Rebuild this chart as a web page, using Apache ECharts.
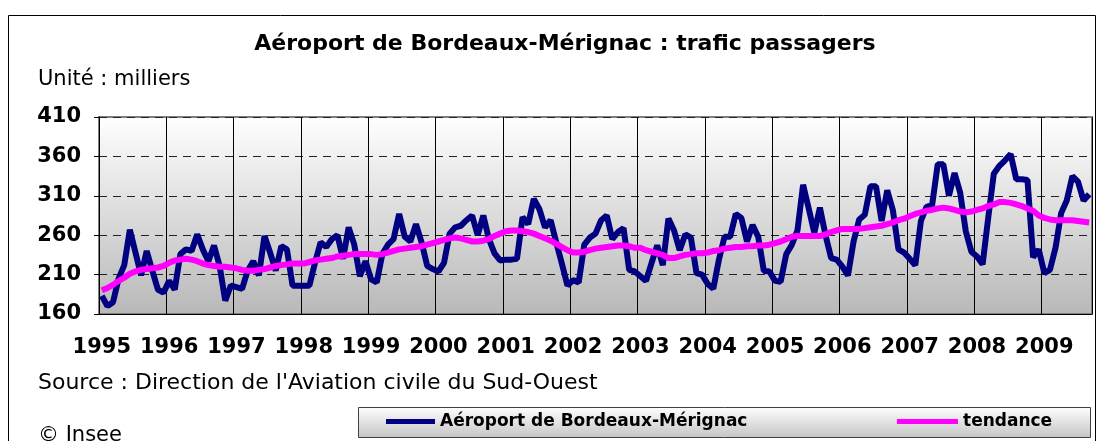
<!DOCTYPE html>
<html>
<head>
<meta charset="utf-8">
<script src="https://cdn.jsdelivr.net/npm/echarts@6/dist/echarts.min.js"></script>
<style>
html, body { margin: 0; padding: 0; background: #fff; }
#chart { width: 1100px; height: 441px; }
</style>
</head>
<body>
<div id="chart"></div>
<script>
// données mensuelles, janvier 1995 -> septembre 2009 (milliers de passagers)
const annees = [1995, 1996, 1997, 1998, 1999, 2000, 2001, 2002, 2003, 2004, 2005, 2006, 2007, 2008, 2009];

const trafic = [
    183, 170, 175, 205, 222, 267, 238, 209, 240, 215, 191, 187,
    202, 191, 236, 242, 240, 261, 242, 227, 247, 221, 177, 196,
    194, 192, 215, 227, 209, 259, 238, 215, 246, 242, 196, 196,
    196, 196, 225, 251, 245, 255, 260, 230, 270, 248, 208, 227,
    204, 200, 236, 248, 255, 287, 258, 252, 274, 251, 221, 217,
    214, 225, 262, 270, 272, 279, 285, 260, 285, 255, 237, 228,
    229, 229, 230, 283, 274, 306, 293, 270, 279, 251, 224, 196,
    203, 200, 248, 257, 262, 279, 285, 255, 264, 269, 216, 214,
    208, 202, 225, 247, 222, 281, 266, 241, 261, 257, 212, 210,
    198, 192, 229, 258, 258, 287, 282, 252, 273, 258, 215, 214,
    202, 201, 236, 248, 266, 324, 294, 263, 295, 260, 231, 229,
    220, 209, 252, 280, 286, 322, 322, 278, 317, 292, 242, 238,
    230, 222, 278, 296, 298, 350, 350, 310, 339, 314, 265, 239,
    233, 223, 282, 338, 348, 355, 363, 331, 331, 330, 232, 242,
    212, 216, 244, 288, 304, 335, 328, 304, 312
];

const tendance = [
    190, 193, 197, 202, 206, 211, 214, 216, 217, 218, 219, 221,
    225, 228, 229, 230, 229, 227, 224, 222, 221, 220, 220, 219,
    218, 216, 215, 215, 216, 217, 219, 221, 222, 223, 224, 224,
    224, 226, 228, 229, 230, 231, 233, 234, 235, 236, 236, 236,
    236, 235, 236, 238, 240, 242, 243, 244, 245, 246, 248, 250,
    252, 254, 256, 257, 256, 254, 252, 252, 253, 255, 259, 262,
    265, 266, 266, 265, 264, 262, 259, 256, 253, 249, 245, 241,
    238, 238, 239, 241, 243, 244, 245, 246, 247, 247, 246, 244,
    244, 241, 239, 237, 235, 231, 231, 233, 235, 236, 237, 237,
    238, 240, 241, 243, 244, 245, 245, 246, 246, 247, 247, 248,
    250, 252, 255, 258, 259, 259, 259, 259, 259, 261, 264, 266,
    268, 268, 268, 268, 269, 270, 271, 272, 274, 276, 279, 281,
    284, 287, 289, 291, 292, 294, 295, 294, 292, 290, 289, 290,
    292, 294, 297, 299, 302, 302, 301, 299, 297, 294, 291, 285,
    282, 280, 279, 279, 279, 279, 278, 277, 276
];

const mois = [];
annees.forEach(a => { for (let m = 1; m <= 12; m++) mois.push(a + '-' + String(m).padStart(2, '0')); });
mois.length = trafic.length;

const police = 'DejaVu Sans';
const debutAnnee = i => i % 12 === 0;
const degrade = (haut, bas) => new echarts.graphic.LinearGradient(0, 0, 0, 1, [
    { offset: 0, color: haut }, { offset: 1, color: bas }
]);

const chart = echarts.init(document.getElementById('chart'));
chart.setOption({
    animation: false,
    title: {
        text: 'Aéroport de Bordeaux-Mérignac : trafic passagers',
        left: 560, top: 28, textAlign: 'center',
        textStyle: { fontFamily: police, fontWeight: 'bold', fontSize: 22, color: '#000' }
    },
    grid: {
        left: 99, top: 117, width: 993, height: 197,
        show: true, backgroundColor: degrade('#ffffff', '#b8b8b8'),
        borderColor: '#808080', borderWidth: 2
    },
    xAxis: {
        type: 'category', data: mois, boundaryGap: true,
        axisLine: { lineStyle: { color: '#000', width: 1 } },
        axisTick: { interval: debutAnnee, length: 5, lineStyle: { color: '#000' } },
        axisLabel: {
            interval: debutAnnee, formatter: v => v.slice(0, 4), margin: 23,
            fontFamily: police, fontWeight: 'bold', fontSize: 21, color: '#000'
        },
        splitLine: { show: true, interval: debutAnnee, lineStyle: { color: '#000', width: 1 } }
    },
    yAxis: {
        type: 'value', min: 160, max: 410, interval: 50,
        axisLine: { show: true, lineStyle: { color: '#000', width: 1 } },
        axisTick: { show: true, length: 5, lineStyle: { color: '#000' } },
        axisLabel: { margin: 18, fontFamily: police, fontWeight: 'bold', fontSize: 21, color: '#000' },
        splitLine: { lineStyle: { color: '#222', type: [8, 6], width: 1 } }
    },
    legend: [
        {
            data: ['Aéroport de Bordeaux-Mérignac'], left: 386, top: 413, padding: 0,
            icon: 'rect', itemWidth: 49, itemHeight: 5,
            textStyle: { fontFamily: police, fontWeight: 'bold', fontSize: 17, color: '#000' }
        },
        {
            data: ['tendance'], left: 897, top: 413, padding: 0,
            icon: 'rect', itemWidth: 61, itemHeight: 5,
            textStyle: { fontFamily: police, fontWeight: 'bold', fontSize: 17, color: '#000' }
        }
    ],
    graphic: [
        { type: 'rect', silent: true, z: -10, shape: { x: 8.5, y: 15.5, width: 1087, height: 440 },
          style: { fill: 'none', stroke: '#000', lineWidth: 1 } },
        { type: 'rect', silent: true, z: -10, shape: { x: 358.5, y: 407.5, width: 732, height: 30 },
          style: { fill: degrade('#ffffff', '#c4c4c4'), stroke: '#404040', lineWidth: 1 } },
        { type: 'text', silent: true, x: 38, y: 80,
          style: { text: 'Unité : milliers', fontFamily: police, fontSize: 21, fill: '#000', verticalAlign: 'middle' } },
        { type: 'text', silent: true, x: 38, y: 383,
          style: { text: "Source : Direction de l'Aviation civile du Sud-Ouest", fontFamily: police, fontSize: 22, fill: '#000', verticalAlign: 'middle' } },
        { type: 'text', silent: true, x: 38, y: 436,
          style: { text: '© Insee', fontFamily: police, fontSize: 21, fill: '#000', verticalAlign: 'middle' } }
    ],
    series: [
        {
            name: 'Aéroport de Bordeaux-Mérignac', type: 'line', data: trafic, symbol: 'none', z: 2,
            lineStyle: { color: '#000080', width: 6 }, itemStyle: { color: '#000080' }
        },
        {
            name: 'tendance', type: 'line', data: tendance, symbol: 'none', z: 3,
            lineStyle: { color: '#ff00ff', width: 6 }, itemStyle: { color: '#ff00ff' }
        }
    ]
});
</script>
</body>
</html>
